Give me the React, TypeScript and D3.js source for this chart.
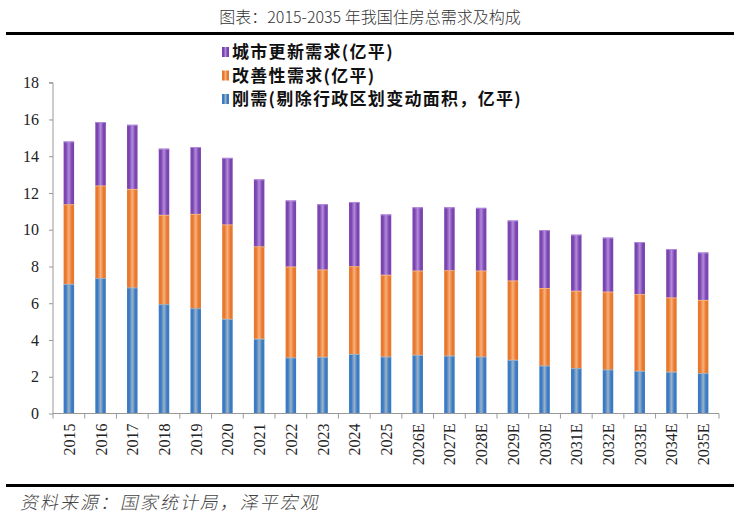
import React, { useEffect, useRef } from 'react';
import * as d3 from 'd3';

const years = ['2015', '2016', '2017', '2018', '2019', '2020', '2021', '2022', '2023', '2024', '2025',
    '2026E', '2027E', '2028E', '2029E', '2030E', '2031E', '2032E', '2033E', '2034E', '2035E'];
// 刚需
const rigid = [7.05, 7.37, 6.86, 5.95, 5.73, 5.15, 4.07, 3.05, 3.08, 3.24, 3.1,
    3.19, 3.15, 3.1, 2.92, 2.61, 2.47, 2.4, 2.32, 2.27, 2.2];
// 改善性需求
const improve = [4.34, 5.04, 5.36, 4.86, 5.13, 5.14, 5.03, 4.95, 4.76, 4.78, 4.45,
    4.59, 4.65, 4.68, 4.32, 4.22, 4.21, 4.23, 4.18, 4.05, 3.98];
// 城市更新需求
const renewal = [3.41, 3.45, 3.49, 3.6, 3.64, 3.62, 3.64, 3.59, 3.55, 3.49, 3.28,
    3.44, 3.42, 3.41, 3.26, 3.15, 3.05, 2.94, 2.83, 2.63, 2.58];
const yTicks = [0, 2, 4, 6, 8, 10, 12, 14, 16, 18];

const seriesNames = ['刚需(剔除行政区划变动面积，亿平)', '改善性需求(亿平)', '城市更新需求(亿平)'];
const seriesKeys = ['rigid', 'improve', 'renewal'];
const edgeColors = ['#3b7bc4', '#e8782e', '#7b45b1'];
const midColors = ['#9cb3c8', '#f8b07a', '#b28bdb'];

const W = 740;
const H = 521;

const App: React.FC = () => {
    const ref = useRef<SVGSVGElement>(null);

    useEffect(() => {
        const svg = d3.select(ref.current);
        svg.selectAll('*').remove();

        const left = 53, right = 719, top = 82.7, bottom = 413.5;
        const serif = '"Liberation Serif", "Times New Roman", serif';
        const cjk = '"Noto Sans CJK SC", sans-serif';

        const rows = years.map((y, i) => ({ year: y, rigid: rigid[i], improve: improve[i], renewal: renewal[i] }));
        const stack = d3.stack<any>().keys(seriesKeys)(rows);

        const x = d3.scaleBand().domain(years).range([left, right]);
        const yScale = d3.scaleLinear().domain([0, 18]).range([bottom, top]);

        // gradients
        const defs = svg.append('defs');
        seriesKeys.forEach((k, i) => {
            const g = defs.append('linearGradient').attr('id', 'g-' + k)
                .attr('x1', '0%').attr('x2', '100%').attr('y1', '0%').attr('y2', '0%');
            g.append('stop').attr('offset', '0%').attr('stop-color', edgeColors[i]);
            g.append('stop').attr('offset', '22%').attr('stop-color', edgeColors[i]);
            g.append('stop').attr('offset', '50%').attr('stop-color', midColors[i]);
            g.append('stop').attr('offset', '78%').attr('stop-color', edgeColors[i]);
            g.append('stop').attr('offset', '100%').attr('stop-color', edgeColors[i]);
        });

        // title
        svg.append('text').attr('x', W / 2).attr('y', 23).attr('text-anchor', 'middle')
            .attr('font-family', cjk).attr('font-size', 16).attr('font-weight', 300).attr('fill', '#333')
            .text('图表：2015-2035 年我国住房总需求及构成');
        svg.append('rect').attr('x', 6).attr('y', 32).attr('width', 728).attr('height', 3).attr('fill', '#000');
        svg.append('rect').attr('x', 6).attr('y', 484).attr('width', 728).attr('height', 3).attr('fill', '#000');
        svg.append('text').attr('x', 20).attr('y', 509)
            .attr('font-family', cjk).attr('font-size', 18).attr('font-weight', 300).attr('letter-spacing', 2)
            .attr('fill', '#444')
            .attr('transform', 'skewX(-12)').attr('transform-origin', '20 509')
            .text('资料来源：国家统计局，泽平宏观');

        // bars
        const barW = 10.5;
        stack.forEach((layer, li) => {
            svg.append('g').selectAll('rect')
                .data(layer)
                .enter()
                .append('rect')
                .attr('x', (d: any) => (x(d.data.year) as number) + x.bandwidth() / 2 - barW / 2)
                .attr('y', (d: any) => yScale(d[1]))
                .attr('width', barW)
                .attr('height', (d: any) => yScale(d[0]) - yScale(d[1]))
                .attr('fill', `url(#g-${seriesKeys[li]})`);
            // thin light top edge
            svg.append('g').selectAll('line')
                .data(layer)
                .enter()
                .append('line')
                .attr('x1', (d: any) => (x(d.data.year) as number) + x.bandwidth() / 2 - barW / 2)
                .attr('x2', (d: any) => (x(d.data.year) as number) + x.bandwidth() / 2 + barW / 2)
                .attr('y1', (d: any) => yScale(d[1]) + 0.5)
                .attr('y2', (d: any) => yScale(d[1]) + 0.5)
                .attr('stroke', midColors[li]).attr('stroke-width', 1);
        });

        // y axis
        const yAxis = svg.append('g').attr('transform', `translate(${left},0)`)
            .call(d3.axisLeft(yScale).tickValues(yTicks).tickSize(4).tickPadding(10).tickFormat(d3.format('d')));
        yAxis.select('.domain').attr('stroke', '#999').attr('d', `M-4,${top}H0V${bottom}`);
        yAxis.selectAll('.tick line').attr('stroke', '#999');
        yAxis.selectAll('text').attr('font-family', serif).attr('font-size', 16).attr('fill', '#222');

        // x axis
        const xg = svg.append('g');
        xg.append('line').attr('x1', left).attr('x2', right).attr('y1', bottom).attr('y2', bottom)
            .attr('stroke', '#999');
        xg.selectAll('line.t')
            .data(years.concat(['end']))
            .enter()
            .append('line')
            .attr('class', 't')
            .attr('x1', (d, i) => left + i * x.step())
            .attr('x2', (d, i) => left + i * x.step())
            .attr('y1', bottom).attr('y2', bottom + 5)
            .attr('stroke', '#999');
        xg.selectAll('text')
            .data(years)
            .enter()
            .append('text')
            .attr('transform', (d) => `translate(${(x(d) as number) + x.bandwidth() / 2 + 6},${bottom + 10}) rotate(-90)`)
            .attr('text-anchor', 'end')
            .attr('font-family', serif).attr('font-size', 16).attr('fill', '#222')
            .text((d) => d);

        // legend
        const legendOrder = [2, 1, 0];
        const lg = svg.append('g').selectAll('g')
            .data(legendOrder)
            .enter()
            .append('g')
            .attr('transform', (d, i) => `translate(222, ${52 + i * 23.5})`);
        lg.append('rect').attr('x', 0).attr('y', -5).attr('width', 7).attr('height', 10)
            .attr('fill', (d) => `url(#g-${seriesKeys[d]})`);
        lg.append('text').attr('x', 10).attr('y', 6)
            .attr('font-family', cjk).attr('font-size', 17).attr('font-weight', 'bold')
            .attr('letter-spacing', 1.3).attr('fill', '#111')
            .text((d) => seriesNames[d]);
    }, []);

    return <svg ref={ref} width={W} height={H} style={{ position: 'absolute', left: 0, top: 0, background: '#fff' }}></svg>;
};

export default App;
